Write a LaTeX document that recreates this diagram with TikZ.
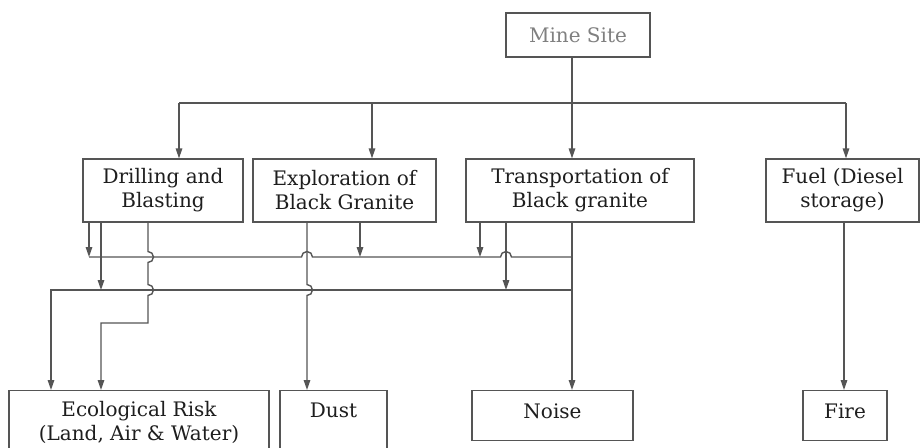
\documentclass[tikz,border=0pt]{standalone}
\usepackage{fontspec}
\setmainfont{DejaVu Serif}
\usetikzlibrary{arrows.meta,positioning}
\definecolor{linegray}{HTML}{555555}
\definecolor{txtgray}{HTML}{1e1e1e}

\begin{document}
\begin{tikzpicture}[x=1pt,y=1pt,
  every node/.style={font=\fontsize{20}{24}\selectfont, text=txtgray},
  box/.style={draw=linegray, line width=1.2pt, inner sep=2pt},
  twoline/.style={box, align=center},
  outbox/.style={box, anchor=north, text height=15pt, text depth=10pt},
  wire/.style={draw=linegray, line width=1.4pt},
  arr/.style={wire, -{Triangle[length=10pt,width=6.5pt]}},
]
\clip (0,0) rectangle (920,-447);
\fill[white] (0,0) rectangle (920,-447);

% top row
\node[box, minimum width=144, minimum height=44, text=gray] (mine) at (578,-35) {Mine Site};
\node[twoline, minimum width=160, minimum height=63] (drill) at (163,-190.5) {Drilling and\\Blasting};
\node[twoline, minimum width=183, minimum height=63] (explo) at (344.5,-190.5) {Exploration of\\Black Granite};
\node[twoline, minimum width=228, minimum height=63] (trans) at (580,-190.5) {Transportation of\\Black granite};
\node[twoline, minimum width=153, minimum height=63] (fuel) at (842.5,-190.5) {Fuel (Diesel\\storage)};

% impacts
\node[twoline, anchor=north, minimum width=260, minimum height=64] (eco) at (139,-390) {Ecological Risk\\(Land, Air \& Water)};
\node[outbox, minimum width=107, minimum height=64, text depth=25pt] (dust) at (333.5,-390) {Dust};
\node[outbox, minimum width=161, minimum height=50] (noise) at (552.5,-390) {Noise};
\node[outbox, minimum width=84, minimum height=50] (fire) at (845,-390) {Fire};

% bus points
\coordinate (kD) at (179,-103);
\coordinate (kE) at (372,-103);
\coordinate (kT) at (572,-103);
\coordinate (kF) at (846,-103);
\coordinate (lA) at (89,-257);
\coordinate (lB) at (51,-290);
\coordinate (xb) at (101,0);
\coordinate (xe) at (360,0);
\coordinate (xf) at (480,0);
\coordinate (xq) at (844,0);
\coordinate (cA) at (148,-257);
\coordinate (cB) at (148,-290);
\coordinate (turn) at (148,-323);
\coordinate (dA) at (307,-257);
\coordinate (dB) at (307,-290);
\coordinate (gA) at (506,-257);

% from the mine site
\draw[wire] (kD) -- (kF);
\draw[arr] (mine.south -| kT) -- (kT |- trans.north);
\draw[arr] (kD) -- (kD |- drill.north);
\draw[arr] (kE) -- (kE |- explo.north);
\draw[arr] (kF) -- (kF |- fuel.north);

% noise line and risk line
\draw[wire] (lA) -- ([xshift=-5.5pt]dA) arc(180:0:5.5) -- ([xshift=-5.5pt]gA) arc(180:0:5.5) -- (lA -| kT);
\draw[arr] (lB -| kT) -- (lB) -- (lB |- eco.north);
\draw[arr] (drill.south -| lA) -- (lA);
\draw[arr] (explo.south -| xe) -- (xe |- lA);
\draw[arr] (trans.south -| xf) -- (xf |- lA);
\draw[arr] (drill.south -| xb) -- (xb |- lB);
\draw[arr] (trans.south -| gA) -- (gA |- lB);

% straight downs
\draw[arr] (drill.south -| cA) -- ([yshift=5.5pt]cA) arc(90:-90:5.5) -- ([yshift=5.5pt]cB) arc(90:-90:5.5)
  -- (turn) -- (turn -| xb) -- (xb |- eco.north);
\draw[arr] (explo.south -| dB) -- ([yshift=5.5pt]dB) arc(90:-90:5.5) -- (dB |- dust.north);
\draw[arr] (trans.south -| kT) -- (kT |- noise.north);
\draw[arr] (fuel.south -| xq) -- (xq |- fire.north);
\end{tikzpicture}
\end{document}
